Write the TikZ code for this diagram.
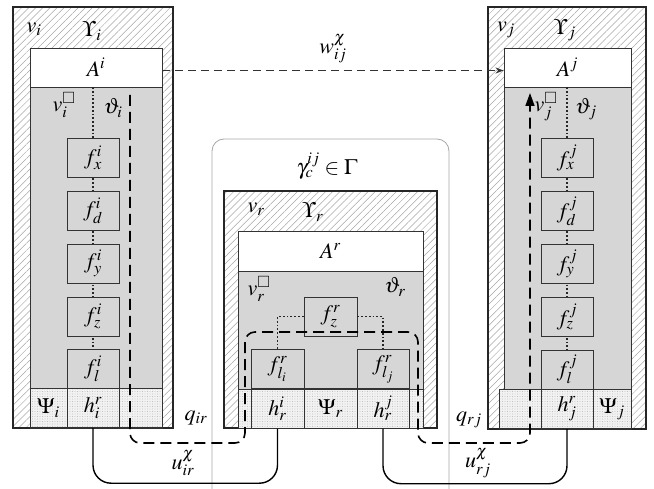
\documentclass[tikz,border=0pt]{standalone}
\usepackage{amssymb}
\usepackage{mathptmx}
\usetikzlibrary{patterns.meta,arrows.meta}

\begin{document}
\begin{tikzpicture}[x=1pt, y=-1pt, font=\fontsize{22}{26}\selectfont, inner sep=0.5pt,
  hatch/.style={draw=black!85, line width=1.4pt, pattern={Lines[angle=45,distance=5pt,line width=0.5pt]}, pattern color=black!35},
  graybg/.style={draw=black!80, line width=0.9pt, fill=gray!32},
  dotrow/.style={draw=black!80, line width=0.9pt, preaction={fill=gray!10}, pattern={Dots[distance=2.5pt,radius=0.4pt]}, pattern color=gray!70},
  abox/.style={draw=black!80, line width=0.9pt, fill=white, minimum height=39, inner sep=0pt},
  fbox/.style={draw=black!80, line width=0.9pt, fill=gray!32, minimum width=52, minimum height=39, inner sep=0pt},
  cell/.style={draw=black!80, line width=0.9pt, minimum height=39.5, inner sep=0pt},
  dotlink/.style={dotted, line width=1.8pt, black!85},
  qlink/.style={line width=1.6pt, dash pattern=on 11pt off 6pt, rounded corners=10pt},
  wlink/.style={line width=1.2pt, black!80, dash pattern=on 8pt off 5pt},
  ulink/.style={line width=1.4pt, rounded corners=18pt},
  roundframe/.style={draw=gray!70, line width=0.8pt, rounded corners=12pt}]
\useasboundingbox (0,0) rectangle (654,489);
%cluster frame
\draw[roundframe] (212,495) -- (212,139) -- (449,139) -- (449,495);
%%
%node v_i
\draw[hatch] (13,7) rectangle (173,428);
\draw[graybg] (30,87) rectangle (162,388);
\draw[dotrow] (30,388) rectangle (162,428);
\node[abox, minimum width=132] (Ai) at (96,67.5) {$A^{i}$};
\draw[dotlink] (93,87) -- (93,350);
\foreach \s/\y in {x/158, d/211, y/263.5, z/316.5, l/368.5} \node[fbox] (f\s i) at (93,\y) {$f^{i}_{\s}$};
\node[cell, minimum width=37] (Psii) at (48.5,408) {$\Psi_{i}$};
\node[cell, minimum width=52] (hir) at (93,408) {$h^{r}_{i}$};
\node[cell, minimum width=43] (ei) at (140.5,408) {};
%label
\node (vi) at (34,29) {$v_{i}$};
\node (Upi) at (92,31) {$\Upsilon_{i}$};
\node (vbi) at (64,105) {$v^{\square}_{i}$};
\node (thi) at (113,108) {$\vartheta_{i}$};
%%
%node v_j
\draw[hatch] (488,7) rectangle (646,429);
\draw[graybg] (504,87) rectangle (631,389);
\draw[dotrow] (499,389) rectangle (631,429);
\node[abox, minimum width=127] (Aj) at (567.5,67.5) {$A^{j}$};
\draw[dotlink] (567,87) -- (567,350);
\foreach \s/\y in {x/158, d/211, y/263.5, z/317, l/369.5} \node[fbox] (f\s j) at (567,\y) {$f^{j}_{\s}$};
\node[cell, minimum width=42] (ej) at (520,409) {};
\node[cell, minimum width=52] (hjr) at (567,409) {$h^{r}_{j}$};
\node[cell, minimum width=38] (Psij) at (612,409) {$\Psi_{j}$};
%label
\node (vj) at (506,30) {$v_{j}$};
\node (Upj) at (565,30) {$\Upsilon_{j}$};
\node (vbj) at (546,107) {$v^{\square}_{j}$};
\node (thj) at (586,109) {$\vartheta_{j}$};
%%
%node v_r
\draw[hatch] (224,191) rectangle (437,428);
\draw[graybg] (238,271) rectangle (423,389);
\draw[dotrow] (238,389) rectangle (423,428);
\node[abox, minimum width=185, minimum height=40] (Ar) at (330.5,251) {$A^{r}$};
\node[fbox, minimum width=53] (fzr) at (330.5,316.5) {$f^{r}_{z}$};
\draw[dotlink] (fzr.west) -| (277.5,350);
\draw[dotlink] (fzr.east) -| (383,350);
\node[fbox, minimum width=53, minimum height=40] (flir) at (277.5,369) {$f^{r}_{l_i}$};
\node[fbox, minimum width=52, minimum height=40] (fljr) at (383,369) {$f^{r}_{l_j}$};
\node[cell, minimum width=53] (hrir) at (277.5,408.5) {$h^{i}_{r}$};
\node[cell, minimum width=53] (Psir) at (330.5,408.5) {$\Psi_{r}$};
\node[cell, minimum width=52] (hrjr) at (383,408.5) {$h^{j}_{r}$};
%label
\node (gam) at (327,166) {$\gamma^{ij}_{c}\in\Gamma$};
\node (vr) at (256,209) {$v_{r}$};
\node (Upr) at (313,212) {$\Upsilon_{r}$};
\node (vbr) at (259,289) {$v^{\square}_{r}$};
\node (thr) at (395,287) {$\vartheta_{r}$};
%%
%links
\draw[wlink, -{Stealth[length=8pt,width=6pt]}] ([yshift=-3pt]Ai.east) -- node[midway, above=6pt, black] (wij) {$w^{\chi}_{ij}$} ([yshift=-3pt]Aj.west);
\coordinate (qin) at (130,95);
\coordinate (qout) at (530,93);
\draw[qlink, -{Triangle[length=13pt,width=9pt]}] (qin) |- (245,443) |- (418,332) |- (530,443) -- (qout);
\draw[ulink] (hir.south) -- ++(0,55) -| (hrir.south);
\draw[ulink] (hrjr.south) -- ++(0,55) -| (hjr.south);
\node (qir) at (196,418) {$q_{ir}$};
\node (uir) at (183,463) {$u^{\chi}_{ir}$};
\node (qrj) at (469,420) {$q_{rj}$};
\node (urj) at (478,463) {$u^{\chi}_{rj}$};
\end{tikzpicture}
\end{document}
